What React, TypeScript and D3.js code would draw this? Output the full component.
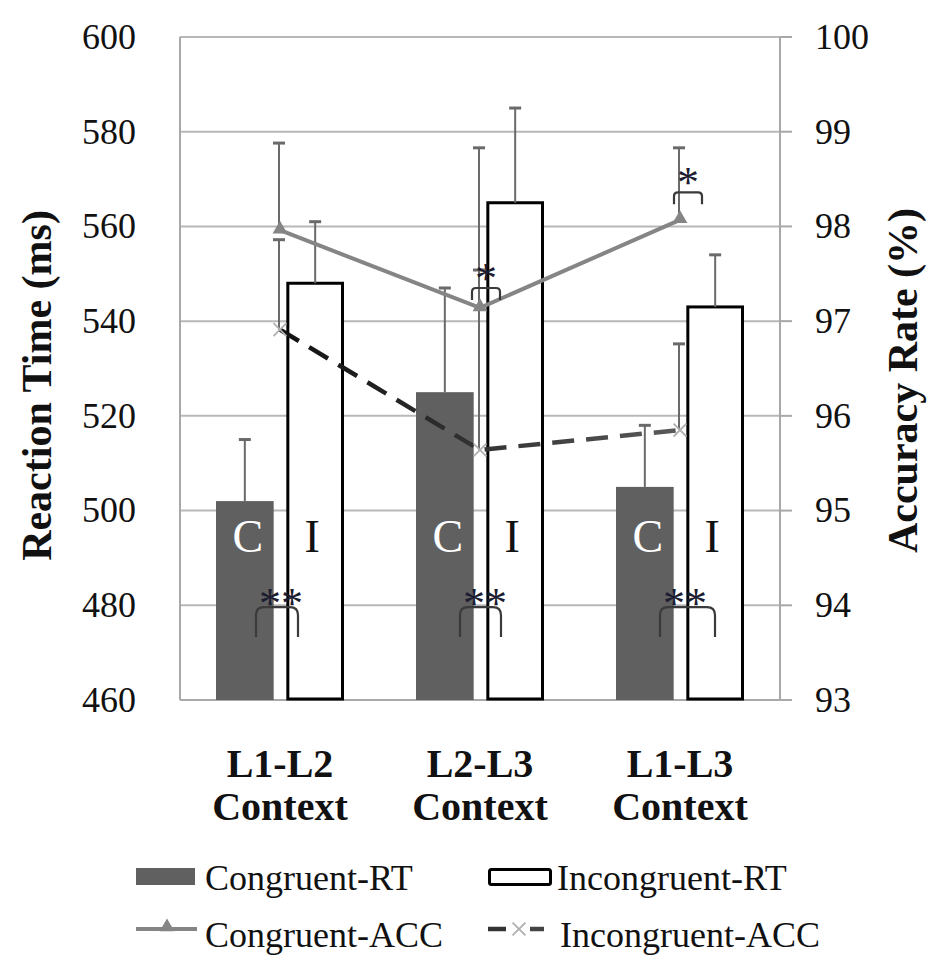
import * as d3 from 'd3'

// data
const contexts = ['L1-L2', 'L2-L3', 'L1-L3']
const contextSuffix = 'Context'
const series = ['Congruent-RT', 'Incongruent-RT']

const congruentRT = [502, 525, 505]
const congruentRTErr = [13, 22, 13]
const incongruentRT = [548, 565, 543]
const incongruentRTErr = [13, 20, 11]

const congruentACC = [97.96, 97.14, 98.07]
const congruentACCErr = [0.92, 1.69, 0.76]
const incongruentACC = [96.91, 95.64, 95.85]
const incongruentACCErr = [0.95, 1.9, 0.91]

const rtTicks = [460, 480, 500, 520, 540, 560, 580, 600]
const accTicks = [93, 94, 95, 96, 97, 98, 99, 100]

const FONT = 'Liberation Serif, Times New Roman, DejaVu Serif, serif'

export default function App() {
    const width = 948
    const height = 977
    const left = 180
    const right = 780
    const top = 37
    const bottom = 700

    const x = d3.scaleBand().domain(contexts).range([left, right]).paddingInner(0.36).paddingOuter(0.18)
    const xInner = d3.scaleBand().domain(series).range([0, x.bandwidth()]).paddingInner(0.18)
    const yRT = d3.scaleLinear().domain([460, 600]).range([bottom, top])
    const yACC = d3.scaleLinear().domain([93, 100]).range([bottom, top])

    const cx = (c: string) => (x(c) as number) + x.bandwidth() / 2
    const barX = (c: string, s: string) => (x(c) as number) + (xInner(s) as number)
    const bw = xInner.bandwidth()

    const accLine = d3.line<number>().x((_, i) => cx(contexts[i])).y(d => yACC(d))
    const triangle = d3.symbol().type(d3.symbolTriangle).size(95)()
    const cross = d3.symbol().type(d3.symbolX).size(110)()

    // bracket with rounded shoulders
    const bracket = (x0: number, x1: number, yt: number, yb: number, r: number) =>
        `M${x0},${yb} L${x0},${yt + r} Q${x0},${yt} ${x0 + r},${yt} L${x1 - r},${yt} Q${x1},${yt} ${x1},${yt + r} L${x1},${yb}`

    const errBar = (key: string, xp: number, y0: number, y1: number, color = '#6a6a6a') => (
        <g key={key} stroke={color} strokeWidth={2}>
            <line x1={xp} x2={xp} y1={y0} y2={y1} />
            <line x1={xp - 6} x2={xp + 6} y1={y1} y2={y1} strokeWidth={3} />
        </g>
    )

    // significance marks (offsets from the C/I gap)
    const rtSig = [[-24, 18, 1], [-20, 21, 5], [-20, 35, 5]]
    const accSig = [{ c: 1, x0: -8, x1: 20, lvl: 97.35 }, { c: 2, x0: -6, x1: 22, lvl: 98.36 }]
    const gapX = (c: string) => barX(c, series[0]) + bw + (barX(c, series[1]) - barX(c, series[0]) - bw) / 2

    return (
        <svg width={width} height={height} style={{ position: 'absolute', left: 0, top: 0, background: '#fff', fontFamily: FONT }}>
            <defs>
                <linearGradient id="dashGrad" gradientUnits="userSpaceOnUse" x1={cx(contexts[0])} x2={cx(contexts[2])} y1={0} y2={0}>
                    <stop offset="0" stopColor="#111" />
                    <stop offset="0.5" stopColor="#333" />
                    <stop offset="1" stopColor="#5a5a5a" />
                </linearGradient>
            </defs>

            {/* gridlines */}
            {rtTicks.map(t => (
                <line key={'g' + t} x1={left} x2={right} y1={yRT(t)} y2={yRT(t)} stroke="#b8b8b8" strokeWidth={2} />
            ))}
            {/* axes */}
            <line x1={left} x2={left} y1={top} y2={bottom} stroke="#a8a8a8" strokeWidth={2} />
            <line x1={right} x2={right} y1={top} y2={bottom} stroke="#a8a8a8" strokeWidth={2} />
            <line x1={left} x2={right} y1={bottom} y2={bottom} stroke="#a8a8a8" strokeWidth={2} />
            {accTicks.map(t => (
                <line key={'rt' + t} x1={right} x2={right + 12} y1={yACC(t)} y2={yACC(t)} stroke="#a8a8a8" strokeWidth={2} />
            ))}

            {/* bars */}
            {contexts.map((c, i) => (
                <g key={'b' + c}>
                    <rect x={barX(c, series[0])} y={yRT(congruentRT[i])} width={bw} height={bottom - yRT(congruentRT[i])} fill="#606060" />
                    <rect x={barX(c, series[1]) + 1.5} y={yRT(incongruentRT[i])} width={bw - 3} height={bottom - yRT(incongruentRT[i]) - 1}
                          fill="#fff" stroke="#000" strokeWidth={3} />
                </g>
            ))}

            {/* RT error bars */}
            {contexts.map((c, i) => errBar('ec' + c, barX(c, series[0]) + bw / 2, yRT(congruentRT[i]), yRT(congruentRT[i] + congruentRTErr[i])))}
            {contexts.map((c, i) => errBar('ei' + c, barX(c, series[1]) + bw / 2, yRT(incongruentRT[i]), yRT(incongruentRT[i] + incongruentRTErr[i])))}

            {/* C / I labels */}
            {contexts.map(c => (
                <g key={'l' + c} fontSize={46}>
                    <text x={barX(c, series[0]) + bw / 2 + 3} y={552} textAnchor="middle" fill="#fff">C</text>
                    <text x={barX(c, series[1]) + bw / 2 - 3} y={552} textAnchor="middle" fill="#111">I</text>
                </g>
            ))}

            {/* ACC error bars */}
            {contexts.map((c, i) => errBar('ac' + c, cx(c) - 1, yACC(congruentACC[i]), yACC(congruentACC[i] + congruentACCErr[i])))}
            {contexts.map((c, i) => errBar('ai' + c, cx(c) - 1, yACC(incongruentACC[i]), yACC(incongruentACC[i] + incongruentACCErr[i])))}

            {/* ACC lines */}
            <path d={accLine(incongruentACC) as string} fill="none" stroke="url(#dashGrad)" strokeWidth={4.5} strokeDasharray="22 12" />
            <path d={accLine(congruentACC) as string} fill="none" stroke="#858585" strokeWidth={4} />
            {contexts.map((c, i) => (
                <path key={'tri' + c} d={triangle as string} transform={`translate(${cx(c)},${yACC(congruentACC[i]) - 1})`} fill="#858585" />
            ))}
            {contexts.map((c, i) => (
                <path key={'x' + c} d={cross as string} transform={`translate(${cx(c)},${yACC(incongruentACC[i])})`}
                      fill="none" stroke="#b0b0b0" strokeWidth={1.8} />
            ))}

            {/* significance */}
            {contexts.map((c, i) => {
                const g = gapX(c)
                return (
                    <g key={'s' + c}>
                        <path d={bracket(g + rtSig[i][0], g + rtSig[i][1], yRT(479.6), yRT(473.3), 8)} fill="none" stroke="#3a3a3a" strokeWidth={2.2} />
                        <text x={cx(c) + rtSig[i][2]} y={618} fontSize={44} textAnchor="middle" fill="#1c1c30">**</text>
                    </g>
                )
            })}
            {accSig.map(s => {
                const c = contexts[s.c]
                const g = cx(c)
                const yt = yACC(s.lvl)
                return (
                    <g key={'as' + c}>
                        <path d={bracket(g + s.x0, g + s.x1, yt, yt + 12, 4)} fill="none" stroke="#3a3a3a" strokeWidth={2.2} />
                        <text x={g + (s.x0 + s.x1) / 2} y={yt + 5} fontSize={44} textAnchor="middle" fill="#1c1c30">*</text>
                    </g>
                )
            })}

            {/* tick labels */}
            {rtTicks.map(t => (
                <text key={'tl' + t} x={136} y={yRT(t)} dy="0.33em" textAnchor="end" fontSize={36} fill="#111">{t}</text>
            ))}
            {accTicks.map(t => (
                <text key={'tr' + t} x={815} y={yACC(t)} dy="0.33em" fontSize={36} fill="#111">{t}</text>
            ))}
            {contexts.map(c => (
                <text key={'xl' + c} x={cx(c)} textAnchor="middle" fontSize={40} fontWeight="bold" fill="#111">
                    <tspan x={cx(c)} y={777}>{c}</tspan>
                    <tspan x={cx(c)} y={820}>{contextSuffix}</tspan>
                </text>
            ))}

            {/* axis titles */}
            <text transform={`translate(51,${(top + bottom) / 2 + 17}) rotate(-90)`} textAnchor="middle" fontSize={42} fontWeight="bold" fill="#111">
                Reaction Time (ms)
            </text>
            <text transform={`translate(917,${(top + bottom) / 2 + 12}) rotate(-90)`} textAnchor="middle" fontSize={42} fontWeight="bold" fill="#111">
                Accuracy Rate (%)
            </text>

            {/* legend */}
            <g fontSize={36} fill="#111">
                <rect x={136} y={868} width={59} height={17} fill="#606060" />
                <text x={205} y={890}>{series[0]}</text>
                <rect x={489.5} y={869.5} width={61} height={15} rx={2} fill="#fff" stroke="#000" strokeWidth={3} />
                <text x={557} y={890}>{series[1]}</text>

                <line x1={136} x2={197} y1={929} y2={929} stroke="#858585" strokeWidth={4} />
                <path d={triangle as string} transform="translate(167,927)" fill="#858585" />
                <text x={205} y={947}>Congruent-ACC</text>

                <line x1={488} x2={506} y1={929} y2={929} stroke="#333" strokeWidth={4.5} />
                <line x1={530} x2={544} y1={929} y2={929} stroke="#444" strokeWidth={4.5} />
                <path d={cross as string} transform="translate(519,929)" fill="none" stroke="#b0b0b0" strokeWidth={1.8} />
                <text x={560} y={947}>Incongruent-ACC</text>
            </g>
        </svg>
    )
}
